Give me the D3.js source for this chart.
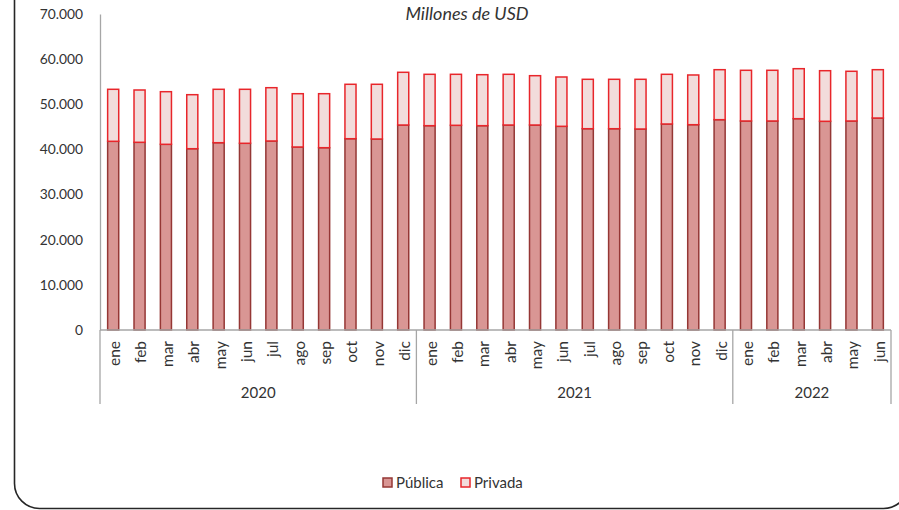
<!DOCTYPE html>
<html><head><meta charset="utf-8">
<script src="https://cdn.jsdelivr.net/npm/d3@7/dist/d3.min.js"></script>
<style>body{margin:0;background:#fff}svg{display:block}</style>
</head><body>
<svg id="c" width="899" height="510"></svg>
<script>
const months = ["ene","feb","mar","abr","may","jun","jul","ago","sep","oct","nov","dic",
"ene","feb","mar","abr","may","jun","jul","ago","sep","oct","nov","dic",
"ene","feb","mar","abr","may","jun"];
const years = ["2020","2020","2020","2020","2020","2020","2020","2020","2020","2020","2020","2020",
"2021","2021","2021","2021","2021","2021","2021","2021","2021","2021","2021","2021",
"2022","2022","2022","2022","2022","2022"];
const publica = [41800,41580,41135,40160,41490,41360,41870,40540,40385,42375,42310,45410,
45260,45345,45260,45410,45410,45120,44590,44590,44525,45635,45480,46590,
46300,46300,46810,46230,46300,46960];
const privada = [11520,11585,11655,11965,11830,11960,11805,11805,11960,12055,12120,11675,
11380,11295,11295,11230,10925,10925,10945,10945,11010,11005,11010,11075,
11230,11230,11075,11210,11010,10705];
const yTicks = [0,10000,20000,30000,40000,50000,60000,70000];
const seriesNames = ["Pública","Privada"];

const svg = d3.select("#c");
const font = "Lato, 'Open Sans', sans-serif";
const L = 100, R = 891, T = 14, B = 330;

// frame
svg.append("rect").attr("x",14.5).attr("y",-40).attr("width",894).attr("height",548.5)
  .attr("rx",25).attr("ry",25).attr("fill","none").attr("stroke","#262626").attr("stroke-width",1.6);

const idx = d3.range(months.length);
const x = d3.scaleBand().domain(idx).range([L,R]).paddingInner(0.58).paddingOuter(0.29);
const y = d3.scaleLinear().domain([0,70000]).range([B,T]);

// y axis labels
const yAxis = d3.axisLeft(y).tickValues(yTicks).tickSize(0).tickPadding(17)
  .tickFormat(d => d3.format(",")(d).replace(/,/g,"."));
const gy = svg.append("g").attr("transform",`translate(${L},0)`).call(yAxis);
gy.select(".domain").attr("stroke","#a6a6a6").attr("stroke-width",1.3);
gy.selectAll("text").attr("font-family",font).attr("font-size",13.8).attr("fill","#333");

// bars
const stack = d3.stack().keys([0,1]).value((d,k)=> k===0 ? publica[d] : privada[d]);
const layers = stack(idx);
const fills = ["#d99694","#f2dcdb"];
const strokes = ["#953735","#e8262b"];
layers.forEach((layer,k)=>{
  svg.append("g").selectAll("rect").data(layer).join("rect")
    .attr("x",(d,i)=>x(i)).attr("width",x.bandwidth())
    .attr("y",d=>y(d[1])).attr("height",d=>y(d[0])-y(d[1]))
    .attr("fill",fills[k]).attr("stroke",strokes[k]).attr("stroke-width",1.5);
});

// x axis line
svg.append("line").attr("x1",L).attr("x2",R).attr("y1",B).attr("y2",B)
  .attr("stroke","#a6a6a6").attr("stroke-width",1.3);

// month labels
const step = x.step();
svg.append("g").selectAll("text").data(idx).join("text")
  .attr("transform",i=>`translate(${x(i)+x.bandwidth()/2+1.5},341) rotate(-90)`)
  .attr("text-anchor","end").attr("dy","0.35em")
  .attr("font-family",font).attr("font-size",15.5).attr("fill","#333")
  .text(i=>months[i]);

// year groups
const yearList = Array.from(new Set(years));
const bounds = yearList.map(yr=>{
  const ii = idx.filter(i=>years[i]===yr);
  return {yr, x0: x(ii[0]) - (step - x.bandwidth())/2, x1: x(ii[ii.length-1]) + x.bandwidth() + (step - x.bandwidth())/2};
});
const seps = [bounds[0].x0, ...bounds.map(b=>b.x1)];
svg.append("g").selectAll("line").data(seps).join("line")
  .attr("x1",d=>d).attr("x2",d=>d).attr("y1",B).attr("y2",404)
  .attr("stroke","#a6a6a6").attr("stroke-width",1.3);
svg.append("g").selectAll("text").data(bounds).join("text")
  .attr("x",b=>(b.x0+b.x1)/2).attr("y",398).attr("text-anchor","middle")
  .attr("font-family",font).attr("font-size",15).attr("fill","#333").text(b=>b.yr);

// title
svg.append("text").attr("x",467).attr("y",20).attr("text-anchor","middle")
  .attr("font-family",font).attr("font-style","italic").attr("font-size",18).attr("fill","#333")
  .text("Millones de USD");

// legend
const lg = svg.append("g");
const lx = [383, 461];
seriesNames.forEach((n,k)=>{
  lg.append("rect").attr("x",lx[k]).attr("y",478).attr("width",9).attr("height",9)
    .attr("fill",fills[k]).attr("stroke",strokes[k]).attr("stroke-width",1.5);
  lg.append("text").attr("x",lx[k]+13).attr("y",487.5).attr("font-family",font)
    .attr("font-size",15).attr("fill","#333").text(n);
});
</script>
</body></html>
